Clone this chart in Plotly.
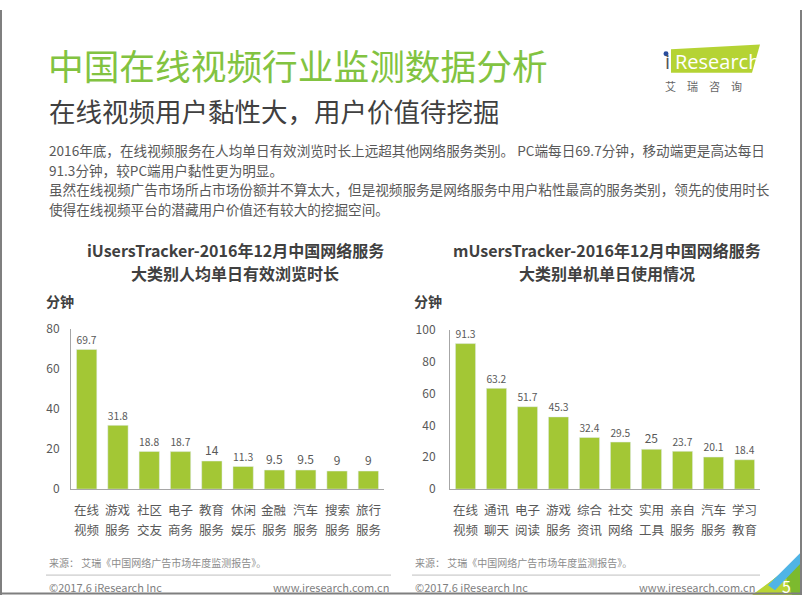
import plotly.graph_objects as go

W, H = 802, 602

# ---------------- data ----------------
cats_pc = ["在线视频", "游戏服务", "社区交友", "电子商务", "教育服务",
           "休闲娱乐", "金融服务", "汽车服务", "搜索服务", "旅行服务"]
vals_pc = [69.7, 31.8, 18.8, 18.7, 14, 11.3, 9.5, 9.5, 9, 9]

cats_m = ["在线视频", "通讯聊天", "电子阅读", "游戏服务", "综合资讯",
          "社交网络", "实用工具", "亲自服务", "汽车服务", "学习教育"]
vals_m = [91.3, 63.2, 51.7, 45.3, 32.4, 29.5, 25, 23.7, 20.1, 18.4]

ticks_pc = [0, 20, 40, 60, 80]
ticks_m = [0, 20, 40, 60, 80, 100]

title_main = "中国在线视频行业监测数据分析"
subtitle = "在线视频用户黏性大，用户价值待挖掘"
para = [
    "2016年底，在线视频服务在人均单日有效浏览时长上远超其他网络服务类别。 PC端每日69.7分钟，移动端更是高达每日",
    "91.3分钟，较PC端用户黏性更为明显。",
    "虽然在线视频广告市场所占市场份额并不算太大，但是视频服务是网络服务中用户粘性最高的服务类别，领先的使用时长",
    "使得在线视频平台的潜藏用户价值还有较大的挖掘空间。",
]
title_pc = ["iUsersTracker-2016年12月中国网络服务", "大类别人均单日有效浏览时长"]
title_m = ["mUsersTracker-2016年12月中国网络服务", "大类别单机单日使用情况"]
unit = "分钟"
source = "来源： 艾瑞《中国网络广告市场年度监测报告》。"
copyright_txt = "©2017.6 iResearch Inc"
website = "www.iresearch.com.cn"
page_no = "5"

# ---------------- style ----------------
FONT = "Noto Sans CJK SC, Noto Sans, sans-serif"
BAR = "#a3c735"
GREEN = "#82c341"
TXT = "#595959"
GRAY_AX = "#a6a6a6"


def px(x):
    return x / W


def py(y):
    return 1 - y / H


fig = go.Figure()

fig.add_trace(go.Bar(
    x=cats_pc, y=vals_pc, marker_color=BAR, xaxis="x", yaxis="y",
    text=vals_pc, texttemplate="%{y}", textposition="outside",
    textfont=dict(size=12, color=TXT, family=FONT), cliponaxis=False,
    hoverinfo="skip", showlegend=False,
))
fig.add_trace(go.Bar(
    x=cats_m, y=vals_m, marker_color=BAR, xaxis="x2", yaxis="y2",
    text=vals_m, texttemplate="%{y}", textposition="outside",
    textfont=dict(size=12, color=TXT, family=FONT), cliponaxis=False,
    hoverinfo="skip", showlegend=False,
))

xcommon = dict(showgrid=False, showline=True, linecolor=GRAY_AX, linewidth=1,
               ticks="", showticklabels=False, fixedrange=True)
ycommon = dict(showgrid=False, showline=True, linecolor=GRAY_AX, linewidth=1,
               ticks="", tickfont=dict(size=12, color=TXT, family=FONT),
               zeroline=False, fixedrange=True)

fig.update_layout(
    width=W, height=H,
    margin=dict(l=0, r=0, t=0, b=0),
    paper_bgcolor="white", plot_bgcolor="white",
    font=dict(family=FONT, color=TXT),
    bargap=0.35,
    xaxis=dict(domain=[px(71), px(384)], anchor="y", **xcommon),
    yaxis=dict(domain=[py(493), py(328)], anchor="x", range=[0, 80],
               tickvals=ticks_pc, ticklabelstandoff=8, **ycommon),
    xaxis2=dict(domain=[px(450), px(760)], anchor="y2", **xcommon),
    yaxis2=dict(domain=[py(493), py(329)], anchor="x2", range=[0, 100],
                tickvals=ticks_m, ticklabelstandoff=11, **ycommon),
)

ann = []


def add_text(text, x, y, size, color=TXT, xanchor="left", bold=False, fam=FONT):
    ann.append(dict(
        text=("<b>%s</b>" % text) if bold else text,
        x=px(x), y=py(y), xref="paper", yref="paper",
        xanchor=xanchor, yanchor="middle", showarrow=False,
        font=dict(size=size, color=color, family=fam),
    ))


add_text(title_main, 46, 56, 35.7, GREEN)
add_text(subtitle, 47, 103, 26.5, "#404040")
for i, line in enumerate(para):
    add_text(line, 47, 144 + i * 20.2, 13.6, TXT)

for i, line in enumerate(title_pc):
    add_text(line, 235, 247 + i * 23.4, 16, "#404040", xanchor="center", bold=True)
for i, line in enumerate(title_m):
    add_text(line, 607, 247 + i * 23.4, 16, "#404040", xanchor="center", bold=True)
add_text(unit, 44, 299, 14, "#404040", bold=True)
add_text(unit, 412, 299, 14, "#404040", bold=True)

# two-row category labels, positioned on the category axes
for cats, xr in ((cats_pc, "x"), (cats_m, "x2")):
    for c in cats:
        for row, part in enumerate((c[:2], c[2:])):
            ann.append(dict(text=part, x=c, xref=xr, y=py(514 + row * 20.5), yref="paper",
                            xanchor="center", yanchor="middle", showarrow=False,
                            font=dict(size=12.5, color=TXT, family=FONT)))

add_text(source, 47, 569, 10, "#8c8c8c")
add_text(source, 413, 569, 10, "#8c8c8c")
add_text(copyright_txt, 47, 593.5, 11, "#7f7f7f")
add_text(website, 391, 593.5, 11, "#7f7f7f", xanchor="right")
add_text(copyright_txt, 413, 593.5, 11, "#7f7f7f")
add_text(website, 757, 593.5, 11, "#7f7f7f", xanchor="right")

# logo text
add_text("Research", 673, 53, 20, "white", fam="Open Sans, sans-serif")
add_text("i", 667, 53, 20, "#555555", xanchor="center", fam="Open Sans, sans-serif")
add_text("艾　瑞　咨　询", 663, 78, 11, "#666666")

# page number
add_text(page_no, 786, 593, 16, "white", xanchor="center")

fig.update_layout(annotations=ann)


def path(points):
    s = "M %f,%f " % (px(points[0][0]), py(points[0][1]))
    for x, y in points[1:]:
        s += "L %f,%f " % (px(x), py(y))
    return s + "Z"


shapes = []
# footer separator lines
shapes.append(dict(type="line", xref="paper", yref="paper", x0=px(46), x1=px(391),
                   y0=py(581.5), y1=py(581.5), line=dict(color="#bfbfbf", width=1)))
shapes.append(dict(type="line", xref="paper", yref="paper", x0=px(412), x1=px(760),
                   y0=py(581.5), y1=py(581.5), line=dict(color="#bfbfbf", width=1)))
# logo parallelogram
shapes.append(dict(type="path", xref="paper", yref="paper",
                   path=path([(671, 40.5), (760, 35.5), (752, 64.5), (671, 64.5)]),
                   fillcolor="#b5d334", line=dict(width=0), layer="below"))
shapes.append(dict(type="circle", xref="paper", yref="paper",
                   x0=px(663.5), x1=px(668.5), y0=py(42.5), y1=py(47.5),
                   fillcolor="#2a4d9c", line=dict(width=0)))
# corner decoration
shapes.append(dict(type="path", xref="paper", yref="paper",
                   path=path([(754, 602), (802, 562), (802, 602)]),
                   fillcolor="#7cba2e", line=dict(width=0)))
shapes.append(dict(type="path", xref="paper", yref="paper",
                   path=path([(752, 602), (784, 578), (792, 602)]),
                   fillcolor="#b9d534", line=dict(width=0)))
shapes.append(dict(type="path", xref="paper", yref="paper",
                   path=path([(768, 592), (802, 557), (802, 568), (775, 597)]),
                   fillcolor="#4fb4e6", line=dict(width=0)))
# page border (left, right, bottom)
shapes.append(dict(type="line", xref="paper", yref="paper", x0=px(1), x1=px(1),
                   y0=0, y1=1, line=dict(color="#7f7f7f", width=2)))
shapes.append(dict(type="line", xref="paper", yref="paper", x0=px(801), x1=px(801),
                   y0=0, y1=1, line=dict(color="#7f7f7f", width=2)))
shapes.append(dict(type="line", xref="paper", yref="paper", x0=0, x1=1,
                   y0=py(600.5), y1=py(600.5), line=dict(color="#7f7f7f", width=2)))
fig.update_layout(shapes=shapes)

fig.write_html("out.html", config={"displayModeBar": False, "staticPlot": True},
               post_script="document.body.style.margin='0';document.body.style.overflow='hidden';")
